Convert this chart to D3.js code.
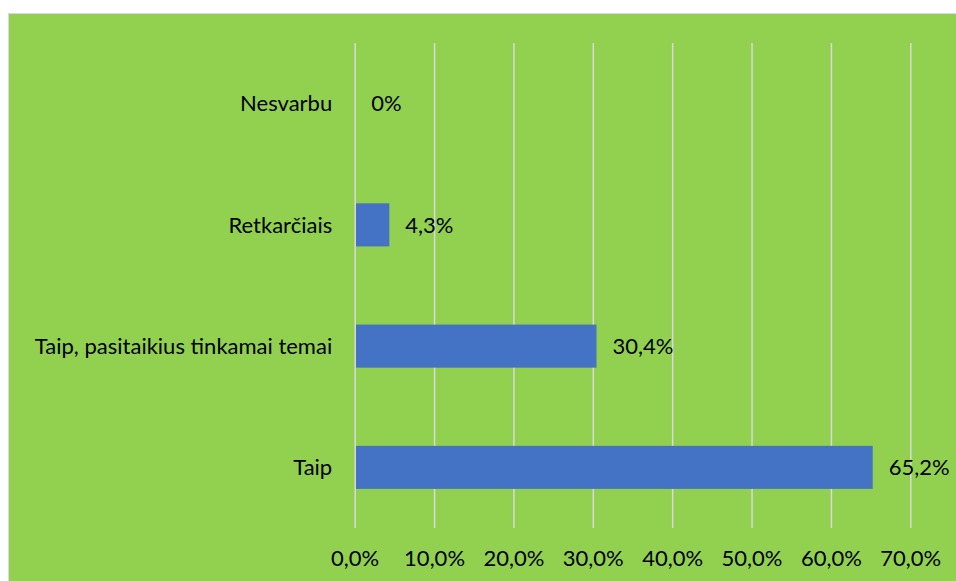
<!DOCTYPE html>
<html><head><meta charset="utf-8">
<script src="https://cdn.jsdelivr.net/npm/d3@7"></script>
<style>html,body{margin:0;padding:0;background:#fff;overflow:hidden}</style>
</head><body>
<script>
const categories = ["Nesvarbu", "Retkarčiais", "Taip, pasitaikius tinkamai temai", "Taip"];
const values = [0, 4.3, 30.4, 65.2];
const valueLabels = ["0%", "4,3%", "30,4%", "65,2%"];
const ticks = [0, 10, 20, 30, 40, 50, 60, 70];
const tickLabels = ["0,0%", "10,0%", "20,0%", "30,0%", "40,0%", "50,0%", "60,0%", "70,0%"];

const W = 956, H = 581;
const svg = d3.select("body").append("svg").attr("width", W).attr("height", H);
const font = "Lato, 'Open Sans', sans-serif";
const fs = 22;

svg.append("rect").attr("x", 8.5).attr("y", 13.5).attr("width", W).attr("height", H)
  .attr("fill", "#92D050").attr("stroke", "#D9D9D9").attr("stroke-width", 1);

const x = d3.scaleLinear().domain([0, 70]).range([355.2, 910.8]);
const y = d3.scaleBand().domain(categories).range([43, 528]).paddingInner(0.645).paddingOuter(0.3225);

// gridlines
svg.append("g").selectAll("line").data(ticks).join("line")
  .attr("x1", d => x(d)).attr("x2", d => x(d)).attr("y1", 43).attr("y2", 528)
  .attr("stroke", "#D9D9D9").attr("stroke-width", 1.5);

// bars
svg.append("g").selectAll("rect").data(values).join("rect")
  .attr("x", x(0) + 0.8).attr("y", (d, i) => y(categories[i]))
  .attr("width", d => Math.max(0, x(d) - x(0) - 0.8)).attr("height", y.bandwidth())
  .attr("fill", "#4472C4");

// value labels
svg.append("g").selectAll("text").data(values).join("text")
  .attr("x", d => x(d) + 16).attr("y", (d, i) => y(categories[i]) + y.bandwidth() / 2)
  .attr("dy", "0.35em").attr("font-family", font).attr("font-size", fs).attr("fill", "#000")
  .text((d, i) => valueLabels[i]);

// category labels
svg.append("g").selectAll("text").data(categories).join("text")
  .attr("x", x(0) - 23).attr("y", d => y(d) + y.bandwidth() / 2)
  .attr("dy", "0.35em").attr("text-anchor", "end")
  .attr("font-family", font).attr("font-size", fs).attr("fill", "#000")
  .text(d => d);

// x tick labels
svg.append("g").selectAll("text").data(ticks).join("text")
  .attr("x", d => x(d)).attr("y", 558).attr("dy", "0.35em").attr("text-anchor", "middle")
  .attr("font-family", font).attr("font-size", fs).attr("fill", "#000")
  .text((d, i) => tickLabels[i]);
</script>
</body></html>
